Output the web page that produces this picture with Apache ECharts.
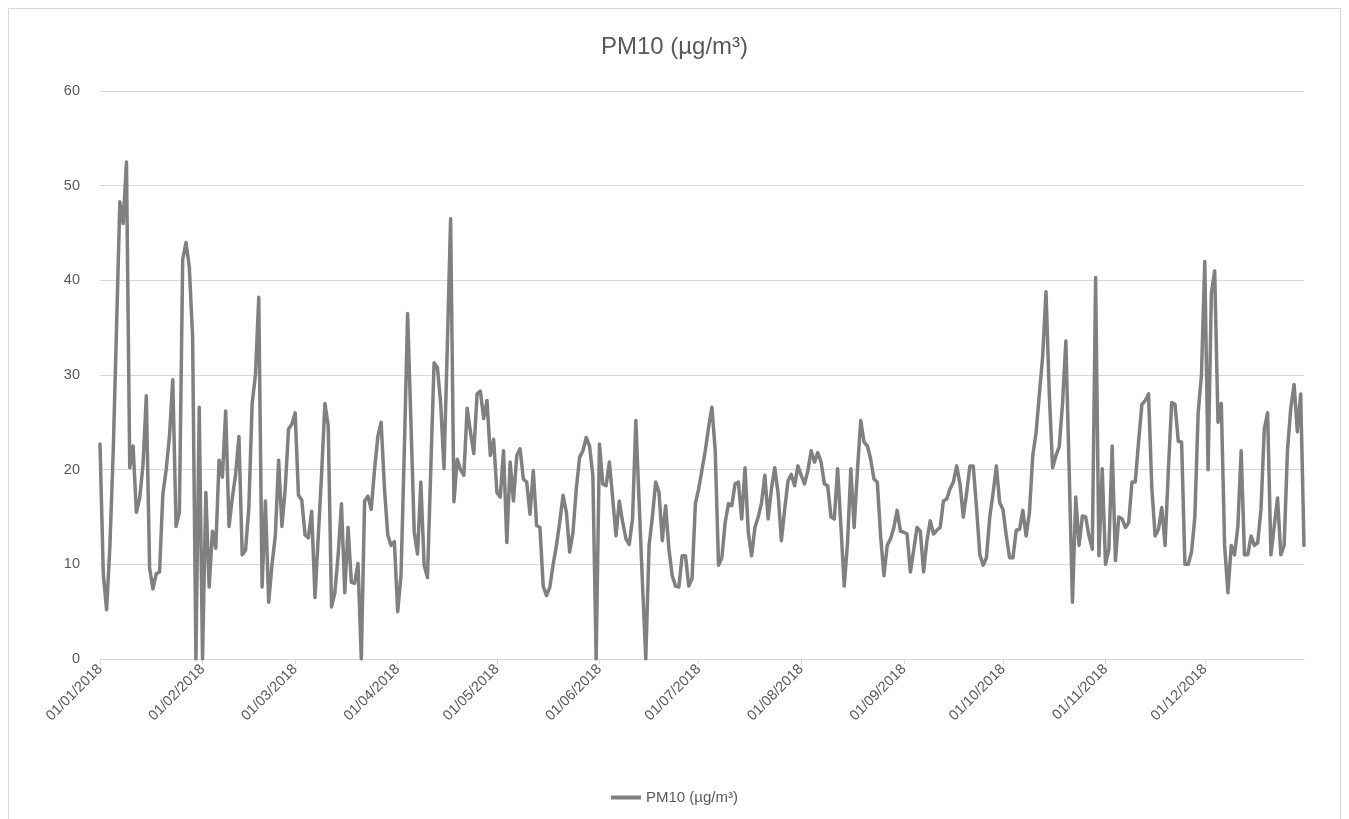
<!DOCTYPE html>
<html>
<head>
<meta charset="utf-8">
<script src="https://cdn.jsdelivr.net/npm/echarts@6/dist/echarts.min.js"></script>
<style>
html,body{margin:0;padding:0;background:#ffffff;}
#frame{position:absolute;left:8px;top:8px;width:1333px;height:830px;border:1px solid #d9d9d9;box-sizing:border-box;}
#chart{position:absolute;left:0;top:0;width:1349px;height:819px;}
</style>
</head>
<body>
<div id="frame"></div>
<div id="chart"></div>
<script>
// Daily PM10 values (µg/m³), 2018, one array per month
const jan = [22.7, 9, 5.2, 12, 22, 35, 48.3, 46, 52.5, 20.2, 22.5, 15.5, 17, 20.5, 27.8, 9.6, 7.4, 9, 9.2, 17.4, 20, 23.5, 29.5, 14, 15.5, 42.2, 44, 41.4, 34, 0, 26.6];
const feb = [0, 17.6, 7.6, 13.5, 11.7, 21, 19.2, 26.2, 14, 17, 19.5, 23.5, 11, 11.5, 16, 27, 30, 38.2, 7.6, 16.7, 6, 10, 13, 21, 14, 18, 24.3, 24.8];
const mar = [26, 17.3, 16.8, 13.1, 12.8, 15.6, 6.5, 13, 19.6, 27, 24.6, 5.5, 7, 11, 16.4, 7, 13.9, 8.1, 8, 10.1, 0, 16.7, 17.2, 15.8, 20, 23.5, 25, 18, 13.1, 12, 12.4];
const apr = [5, 8.8, 22, 36.5, 25, 13.4, 11.1, 18.7, 9.9, 8.6, 20, 31.3, 30.8, 27, 20.1, 33, 46.5, 16.6, 21.1, 20, 19.4, 26.5, 24, 21.7, 28, 28.3, 25.4, 27.3, 21.5, 23.2];
const may = [17.6, 17.1, 22, 12.3, 20.8, 16.7, 21.5, 22.2, 19, 18.7, 15.3, 19.9, 14.1, 13.9, 7.7, 6.7, 7.6, 10, 12, 14.5, 17.3, 15.5, 11.3, 13.4, 18, 21.3, 22, 23.4, 22.5, 19.4, 0];
const jun = [22.7, 18.5, 18.3, 20.8, 17, 13, 16.7, 14.5, 12.7, 12.1, 14.8, 25.2, 16.5, 8, 0, 12, 15, 18.7, 17.6, 12.5, 16.2, 11.6, 8.8, 7.7, 7.6, 10.9, 10.9, 7.7, 8.5, 16.4];
const jul = [18, 20, 22, 24.5, 26.6, 22, 9.9, 10.7, 14.4, 16.4, 16.2, 18.5, 18.7, 14.8, 20.2, 13.4, 10.9, 13.9, 15, 16.5, 19.4, 14.8, 18, 20.2, 17.5, 12.5, 15.8, 18.8, 19.5, 18.3, 20.4];
const aug = [19.4, 18.5, 19.9, 22, 20.8, 21.8, 20.8, 18.5, 18.3, 15, 14.8, 20.1, 14, 7.7, 12.3, 20.1, 13.9, 20, 25.2, 22.9, 22.5, 21.1, 19, 18.7, 13, 8.8, 12, 12.7, 13.9, 15.7, 13.5];
const sep = [13.4, 13.2, 9.2, 11.5, 13.9, 13.5, 9.2, 12.5, 14.6, 13.2, 13.6, 13.9, 16.7, 16.9, 18, 18.7, 20.4, 18.5, 15, 17.5, 20.4, 20.4, 16, 11, 9.9, 10.7, 15, 17.5, 20.4, 16.5];
const oct = [15.8, 13, 10.7, 10.7, 13.6, 13.7, 15.7, 13, 15.5, 21.5, 23.9, 28, 32, 38.8, 28, 20.2, 21.5, 22.4, 27, 33.6, 20, 6, 17.1, 12, 15.1, 15, 13, 11.6, 40.3, 10.9, 20.1];
const nov = [10, 11.6, 22.5, 10.4, 15, 14.8, 13.9, 14.4, 18.7, 18.7, 23, 26.9, 27.3, 28, 18, 13, 13.7, 16, 12, 20, 27.1, 26.9, 23, 22.9, 10, 10, 11.3, 15, 26, 30];
const dec = [42, 20, 38.7, 41, 25, 27, 12, 7, 12, 11, 14, 22, 11, 11, 13, 12, 12.3, 15.8, 24.3, 26, 11, 14, 17, 11, 12, 22, 26.5, 29, 24, 28, 12];

const tickLabels = ['01/01/2018','01/02/2018','01/03/2018','01/04/2018','01/05/2018','01/06/2018','01/07/2018','01/08/2018','01/09/2018','01/10/2018','01/11/2018','01/12/2018'];
const seriesName = 'PM10 (µg/m³)';
const yTicks = [0, 10, 20, 30, 40, 50, 60];

const values = [].concat(jan, feb, mar, apr, may, jun, jul, aug, sep, oct, nov, dec);
const pad = n => (n < 10 ? '0' : '') + n;
const categories = values.map((v, i) => {
  const d = new Date(Date.UTC(2018, 0, 1 + i));
  return pad(d.getUTCDate()) + '/' + pad(d.getUTCMonth() + 1) + '/' + d.getUTCFullYear();
});
const tickSet = new Set(tickLabels);
const isTick = (idx, val) => tickSet.has(categories[idx]);

const FONT = 'Liberation Sans, Arial, sans-serif';
const chart = echarts.init(document.getElementById('chart'), null, {renderer: 'canvas'});
chart.setOption({
  animation: false,
  backgroundColor: 'transparent',
  textStyle: {fontFamily: FONT},
  title: {
    text: seriesName,
    left: 'center',
    top: 30,
    textStyle: {fontSize: 24, fontWeight: 'normal', color: '#595959', fontFamily: FONT}
  },
  legend: {
    data: [seriesName],
    left: 'center',
    top: 785,
    icon: 'rect',
    itemWidth: 30,
    itemHeight: 4,
    itemGap: 10,
    textStyle: {fontSize: 15, color: '#595959', fontFamily: FONT}
  },
  grid: {left: 100, right: 45, top: 91, bottom: 160, containLabel: false},
  xAxis: {
    type: 'category',
    data: categories,
    boundaryGap: false,
    axisLine: {show: true, lineStyle: {color: '#d9d9d9', width: 1}},
    axisTick: {show: true, interval: isTick, length: 5, lineStyle: {color: '#d9d9d9'}},
    axisLabel: {show: true, interval: isTick, rotate: 45, fontSize: 14.5, color: '#595959', margin: 8, fontFamily: FONT},
    splitLine: {show: false}
  },
  yAxis: {
    type: 'value',
    min: yTicks[0],
    max: yTicks[yTicks.length - 1],
    interval: 10,
    axisLine: {show: false},
    axisTick: {show: false},
    axisLabel: {fontSize: 14.5, color: '#595959', margin: 20, fontFamily: FONT},
    splitLine: {show: true, lineStyle: {color: '#d9d9d9', width: 1}}
  },
  series: [{
    name: seriesName,
    type: 'line',
    data: values,
    showSymbol: false,
    symbol: 'none',
    lineStyle: {color: '#808080', width: 3.5, join: 'round', cap: 'round'},
    itemStyle: {color: '#808080'}
  }]
});
</script>
</body>
</html>
